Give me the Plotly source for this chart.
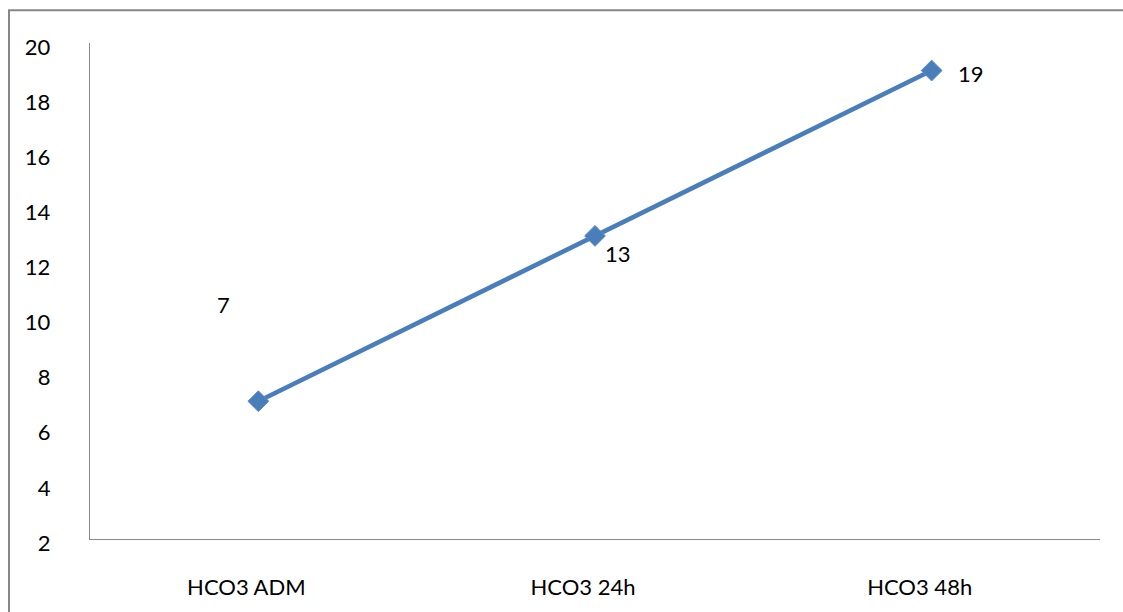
import plotly.graph_objects as go

# Bicarbonate readings over the first 48 hours
categories = ["HCO3 ADM", "HCO3 24h", "HCO3 48h"]
hco3_values = [7, 13, 19]
y_tick_values = [2, 4, 6, 8, 10, 12, 14, 16, 18, 20]

W, H = 1123, 612
M_L, M_R, M_T, M_B = 90, 23, 43, 68
plot_w = W - M_L - M_R
plot_h = H - M_T - M_B

FONT = "Lato, Carlito, Calibri, sans-serif"
LINE_BLUE = "#4A7EBB"
AXIS_GRAY = "#8A8A8A"

fig = go.Figure()
fig.add_trace(go.Scatter(
    x=categories,
    y=hco3_values,
    mode="lines+markers",
    line=dict(color=LINE_BLUE, width=4.6),
    marker=dict(symbol="diamond", size=16, color=LINE_BLUE,
                line=dict(color="#5A8AC6", width=1)),
    showlegend=False,
    hoverinfo="x+y",
))

# value labels placed around each point
label_offsets = [(-35, 97), (23, -18), (39, -3)]
for cat, val, (dx, dy) in zip(categories, hco3_values, label_offsets):
    fig.add_annotation(
        x=cat, y=val, xref="x", yref="y",
        text=str(val), showarrow=False,
        xshift=dx, yshift=dy,
        font=dict(family=FONT, size=22, color="#000000"),
    )

# outer chart frame (left and top edges fall inside the page)
def px_to_paper_x(px):
    return (px - M_L) / plot_w

def px_to_paper_y(py):
    return (H - M_B - py) / plot_h

fig.add_shape(
    type="rect", xref="paper", yref="paper",
    x0=px_to_paper_x(9), x1=px_to_paper_x(W + 10),
    y0=px_to_paper_y(H + 10), y1=px_to_paper_y(10),
    line=dict(color="#878787", width=2),
    fillcolor="rgba(0,0,0,0)", layer="below",
)

fig.update_layout(
    width=W, height=H,
    margin=dict(l=M_L, r=M_R, t=M_T, b=M_B),
    paper_bgcolor="white",
    plot_bgcolor="white",
    font=dict(family=FONT, size=22, color="#000000"),
    xaxis=dict(
        type="category",
        range=[-0.5, 2.5],
        showline=True, linecolor=AXIS_GRAY, linewidth=1.4,
        showgrid=False, zeroline=False,
        ticks="outside", ticklen=28, tickcolor="rgba(0,0,0,0)",
        ticklabelshift=-12,
        tickfont=dict(family=FONT, size=22, color="#000000"),
    ),
    yaxis=dict(
        range=[2, 20],
        tickvals=y_tick_values,
        showline=True, linecolor=AXIS_GRAY, linewidth=1.4,
        showgrid=False, zeroline=False,
        ticks="outside", ticklen=34, tickcolor="rgba(0,0,0,0)",
        ticklabelshift=4,
        tickfont=dict(family=FONT, size=22, color="#000000"),
    ),
)

fig.write_html("out.html")
